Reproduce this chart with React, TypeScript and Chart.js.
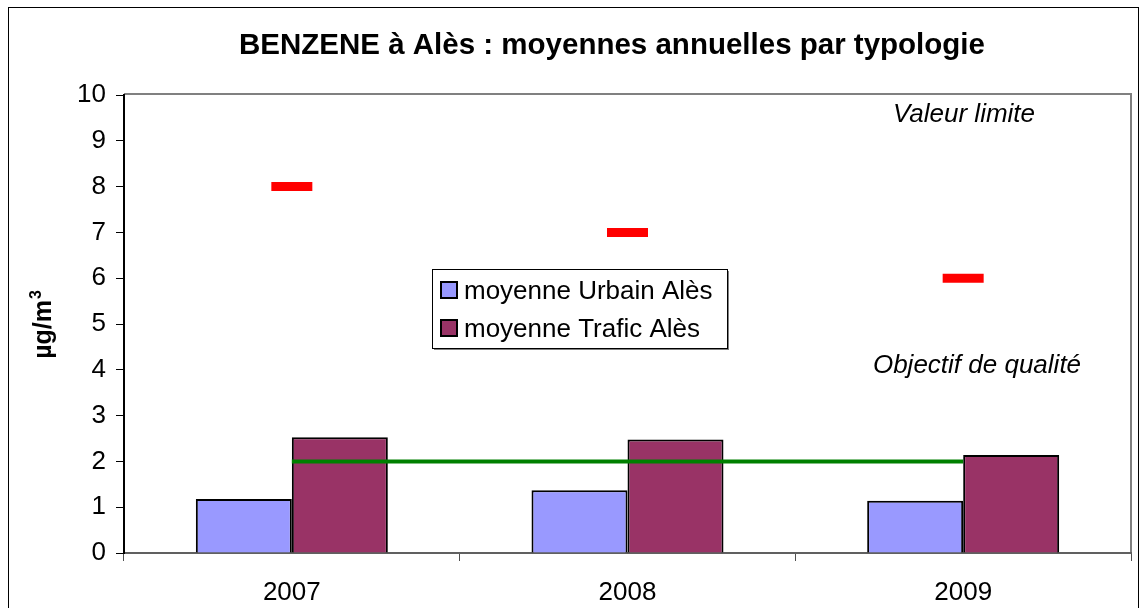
import React, { useEffect, useRef } from 'react';
import { Chart, registerables } from 'chart.js';

Chart.register(...registerables);

// ---- Data ----
const years = ['2007', '2008', '2009'];
const urbainAles = [1.18, 1.37, 1.14];
const traficAles = [2.53, 2.48, 2.14];
const valeurLimite = [8, 7, 6];
const objectifQualite = [2, 2, 2];

const TITLE = 'BENZENE à Alès : moyennes annuelles par typologie';
const Y_TITLE_MAIN = 'µg/m';
const Y_TITLE_SUP = '3';
const LABEL_URBAIN = 'moyenne Urbain Alès';
const LABEL_TRAFIC = 'moyenne Trafic Alès';
const NOTE_LIMITE = 'Valeur limite';
const NOTE_OBJECTIF = 'Objectif de qualité';

const Y_MIN = 0;
const Y_MAX = 10;
const Y_STEP = 1;

const FONT = "'Liberation Sans', Arial, Helvetica, sans-serif";
const COLOR_URBAIN = '#9999FF';
const COLOR_TRAFIC = '#993366';

const decorPlugin = {
  id: 'decor',
  beforeDraw(chart: any) {
    const { ctx, chartArea } = chart;
    ctx.save();
    ctx.fillStyle = '#ffffff';
    ctx.fillRect(0, 0, chart.width, chart.height);
    // outer frame
    ctx.strokeStyle = '#000000';
    ctx.lineWidth = 1;
    ctx.strokeRect(8.5, 7.5, 1130, 700);
    // plot area frame (top + right, grey)
    ctx.strokeStyle = '#808080';
    ctx.lineWidth = 2;
    ctx.beginPath();
    ctx.moveTo(chartArea.left, chartArea.top - 1);
    ctx.lineTo(chartArea.right, chartArea.top - 1);
    ctx.lineTo(chartArea.right, chartArea.bottom);
    ctx.stroke();
    ctx.restore();
  },
  afterDraw(chart: any) {
    const { ctx } = chart;
    ctx.save();
    ctx.fillStyle = '#000000';
    // title
    ctx.font = `bold 29.5px ${FONT}`;
    ctx.textAlign = 'center';
    ctx.textBaseline = 'alphabetic';
    ctx.fillText(TITLE, 612, 54);
    // y-axis title (rotated)
    ctx.save();
    ctx.translate(51, 325);
    ctx.rotate(-Math.PI / 2);
    ctx.font = `bold 25px ${FONT}`;
    const wMain = ctx.measureText(Y_TITLE_MAIN).width;
    ctx.font = `bold 16px ${FONT}`;
    const wSup = ctx.measureText(Y_TITLE_SUP).width;
    const start = -(wMain + wSup) / 2;
    ctx.textAlign = 'left';
    ctx.textBaseline = 'alphabetic';
    ctx.font = `bold 25px ${FONT}`;
    ctx.fillText(Y_TITLE_MAIN, start, 0);
    ctx.font = `bold 16px ${FONT}`;
    ctx.fillText(Y_TITLE_SUP, start + wMain + 1, -10);
    ctx.restore();
    // annotations
    ctx.font = `italic 26px ${FONT}`;
    ctx.textAlign = 'center';
    ctx.fillText(NOTE_LIMITE, 964, 122);
    ctx.fillText(NOTE_OBJECTIF, 977, 373);
    // legend
    const lx = 432, ly = 269, lw = 295, lh = 79;
    ctx.fillStyle = '#808080';
    ctx.fillRect(lx + 2, ly + 2, lw, lh);
    ctx.fillStyle = '#ffffff';
    ctx.fillRect(lx, ly, lw, lh);
    ctx.strokeStyle = '#000000';
    ctx.lineWidth = 1;
    ctx.strokeRect(lx + 0.5, ly + 0.5, lw, lh);
    const items = chart.data.datasets.filter((d: any) => d.type === 'bar');
    items.forEach((d: any, i: number) => {
      const sy = 282 + i * 38;
      ctx.fillStyle = d.backgroundColor;
      ctx.fillRect(441, sy, 16, 16);
      ctx.strokeStyle = '#000000';
      ctx.lineWidth = 2;
      ctx.strokeRect(441, sy, 16, 16);
      ctx.fillStyle = '#000000';
      ctx.font = `26px ${FONT}`;
      ctx.textAlign = 'left';
      ctx.textBaseline = 'alphabetic';
      ctx.fillText(d.label, 464, sy + 17);
    });
    ctx.restore();
  },
};

export default function App() {
  const ref = useRef<HTMLCanvasElement | null>(null);

  useEffect(() => {
    document.body.style.margin = '0';
    const canvas = ref.current;
    if (!canvas) return;
    const chart = new Chart(canvas, {
      type: 'bar',
      data: {
        labels: years,
        datasets: [
          {
            type: 'line',
            label: 'Objectif de qualité',
            data: objectifQualite,
            borderColor: '#008000',
            borderWidth: 4,
            pointRadius: 0,
            fill: false,
            order: 1,
          } as any,
          {
            type: 'line',
            label: 'Valeur limite',
            data: valeurLimite,
            showLine: false,
            pointStyle: 'line',
            pointRadius: 20.5,
            pointBorderWidth: 9,
            pointBorderColor: '#FF0000',
            pointBackgroundColor: '#FF0000',
            borderColor: '#FF0000',
            order: 1,
          } as any,
          {
            type: 'bar',
            label: LABEL_URBAIN,
            data: urbainAles,
            backgroundColor: COLOR_URBAIN,
            borderColor: '#000000',
            borderWidth: 2,
            categoryPercentage: 0.572,
            barPercentage: 1,
            order: 2,
          },
          {
            type: 'bar',
            label: LABEL_TRAFIC,
            data: traficAles,
            backgroundColor: COLOR_TRAFIC,
            borderColor: '#000000',
            borderWidth: 2,
            categoryPercentage: 0.572,
            barPercentage: 1,
            order: 2,
          },
        ],
      },
      options: {
        responsive: false,
        animation: false,
        devicePixelRatio: 1,
        layout: { autoPadding: false, padding: { left: 0, top: 95, right: 13, bottom: 0 } },
        plugins: {
          legend: { display: false },
          title: { display: false },
          tooltip: { enabled: false },
        },
        scales: {
          x: {
            offset: true,
            grid: {
              offset: true,
              drawOnChartArea: false,
              drawTicks: true,
              tickLength: 8,
              color: '#505050',
              lineWidth: 1,
            },
            border: { display: true, color: '#606060', width: 2 },
            ticks: {
              color: '#000000',
              font: { family: FONT, size: 26 },
              padding: 16,
              maxRotation: 0,
            },
            afterFit(scale: any) {
              scale.height = 55;
              scale.paddingLeft = 0;
              scale.paddingRight = 0;
            },
          },
          y: {
            min: Y_MIN,
            max: Y_MAX,
            grid: {
              drawOnChartArea: false,
              drawTicks: true,
              tickLength: 8,
              color: '#000000',
            },
            border: { display: true, color: '#000000', width: 2 },
            ticks: {
              stepSize: Y_STEP,
              color: '#000000',
              font: { family: FONT, size: 26 },
              padding: 10,
            },
            afterFit(scale: any) {
              scale.width = 124;
            },
          },
        },
      },
      plugins: [decorPlugin],
    });
    return () => chart.destroy();
  }, []);

  return (
    <div style={{ width: 1144, height: 608, overflow: 'hidden' }}>
      <canvas ref={ref} width={1144} height={608} style={{ display: 'block' }} />
    </div>
  );
}
